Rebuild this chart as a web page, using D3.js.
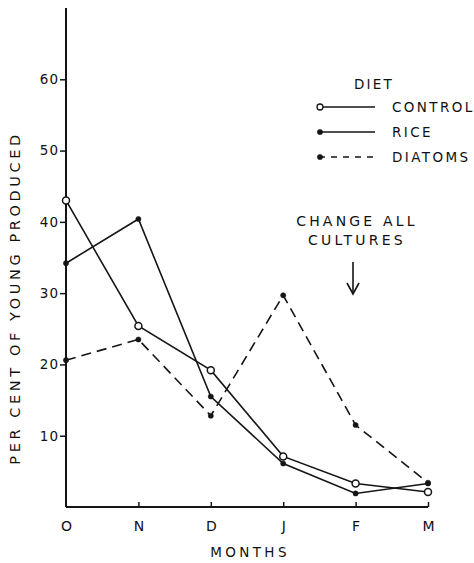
<!DOCTYPE html>
<html>
<head>
<meta charset="utf-8">
<script src="https://cdn.jsdelivr.net/npm/d3@7"></script>
<style>
  body { margin: 0; background: #fff; }
  svg text { font-family: "DejaVu Sans", "Liberation Sans", sans-serif; fill: #111; }
</style>
</head>
<body>
<div id="chart"></div>
<script>
// data
var months = ["O", "N", "D", "J", "F", "M"]
var control = [43.0, 25.4, 19.2, 7.1, 3.3, 2.1]
var rice = [34.2, 40.4, 15.5, 6.1, 1.9, 3.3]
var diatoms = [20.6, 23.5, 12.8, 29.7, 11.5, 3.4]
var yTicks = [10, 20, 30, 40, 50, 60]
var legendNames = ["CONTROL", "RICE", "DIATOMS"]

var width = 474, height = 563
var ink = "#151515"

var svg = d3.select("#chart")
    .append("svg")
    .attr("width", width)
    .attr("height", height)

var x = d3.scalePoint()
    .domain(months)
    .range([66, 428])

var y = d3.scaleLinear()
    .domain([0, 70])
    .range([507, 8])

// x axis: ticks point up into the plot
var xAxis = svg.append("g")
    .attr("transform", "translate(0," + y(0) + ")")
    .call(d3.axisBottom(x).tickSize(-5).tickPadding(14))
xAxis.select(".domain").attr("d", "M" + x("O") + ",0H" + x("M")).attr("stroke", ink).attr("stroke-width", 2)
xAxis.selectAll(".tick line").attr("stroke", ink).attr("stroke-width", 1.5)
xAxis.selectAll(".tick").filter(function (d) { return d == "O" }).select("line").remove()
xAxis.selectAll("text").attr("font-size", 14).attr("fill", ink)

// y axis
var yAxis = svg.append("g")
    .attr("transform", "translate(" + x("O") + ",0)")
    .call(d3.axisLeft(y).tickValues(yTicks).tickSize(6).tickPadding(1))
yAxis.select(".domain").attr("d", "M0," + y(70) + "V" + y(0)).attr("stroke", ink).attr("stroke-width", 2)
yAxis.selectAll(".tick line").attr("stroke", ink).attr("stroke-width", 1.5)
yAxis.selectAll("text").attr("font-size", 13.5).attr("letter-spacing", 1).attr("fill", ink)

// axis titles
svg.append("text")
    .attr("x", 250).attr("y", 557)
    .attr("text-anchor", "middle")
    .attr("font-size", 13.5)
    .attr("letter-spacing", 3.4)
    .text("MONTHS")

svg.append("text")
    .attr("transform", "translate(20,298) rotate(-90)")
    .attr("text-anchor", "middle")
    .attr("font-size", 14.5)
    .attr("letter-spacing", 3.6)
    .text("PER CENT OF YOUNG PRODUCED")

// series lines
var line = d3.line()
    .x(function (d, i) { return x(months[i]) })
    .y(function (d) { return y(d) })

var series = [
    { name: "CONTROL", values: control, dash: null },
    { name: "RICE", values: rice, dash: null },
    { name: "DIATOMS", values: diatoms, dash: "10,6" }
]

series.forEach(function (s) {
    svg.append("path")
        .datum(s.values)
        .attr("fill", "none")
        .attr("stroke", ink)
        .attr("stroke-width", 1.6)
        .attr("stroke-dasharray", s.dash)
        .attr("d", line)
})

// markers
function drawMarkers(values, open) {
    svg.selectAll(null)
        .data(values)
        .enter()
        .append("circle")
        .attr("cx", function (d, i) { return x(months[i]) })
        .attr("cy", function (d) { return y(d) })
        .attr("r", open ? 3.5 : 2.6)
        .attr("fill", open ? "#fff" : ink)
        .attr("stroke", ink)
        .attr("stroke-width", open ? 1.5 : 0.5)
}
drawMarkers(rice, false)
drawMarkers(diatoms, false)
drawMarkers(control, true)

// legend
var legend = svg.append("g")
svg.append("text")
    .attr("x", 354).attr("y", 89)
    .attr("font-size", 13.5)
    .attr("letter-spacing", 2.2)
    .text("DIET")

var legendY = d3.scalePoint().domain(legendNames).range([107, 157])

series.forEach(function (s) {
    var ly = legendY(s.name)
    legend.append("line")
        .attr("x1", 319).attr("x2", 375)
        .attr("y1", ly).attr("y2", ly)
        .attr("stroke", ink)
        .attr("stroke-width", 1.4)
        .attr("stroke-dasharray", s.dash ? "6,6" : null)
    legend.append("circle")
        .attr("cx", 320).attr("cy", ly)
        .attr("r", s.name == "CONTROL" ? 3 : 2.2)
        .attr("fill", s.name == "CONTROL" ? "#fff" : ink)
        .attr("stroke", ink)
        .attr("stroke-width", 1.3)
    legend.append("text")
        .attr("x", 392).attr("y", ly + 5)
        .attr("font-size", 13.5)
        .attr("letter-spacing", 2.4)
        .text(s.name)
})

// annotation
svg.append("text")
    .attr("x", 357).attr("y", 226)
    .attr("text-anchor", "middle")
    .attr("font-size", 14)
    .attr("letter-spacing", 3.2)
    .text("CHANGE ALL")
svg.append("text")
    .attr("x", 357).attr("y", 245)
    .attr("text-anchor", "middle")
    .attr("font-size", 14)
    .attr("letter-spacing", 3.2)
    .text("CULTURES")

svg.append("line")
    .attr("x1", 353).attr("x2", 353)
    .attr("y1", 262).attr("y2", 292)
    .attr("stroke", ink).attr("stroke-width", 1.6)
svg.append("path")
    .attr("d", "M347,283 L353,294 L359,283")
    .attr("fill", "none")
    .attr("stroke", ink).attr("stroke-width", 1.6)
</script>
</body>
</html>
